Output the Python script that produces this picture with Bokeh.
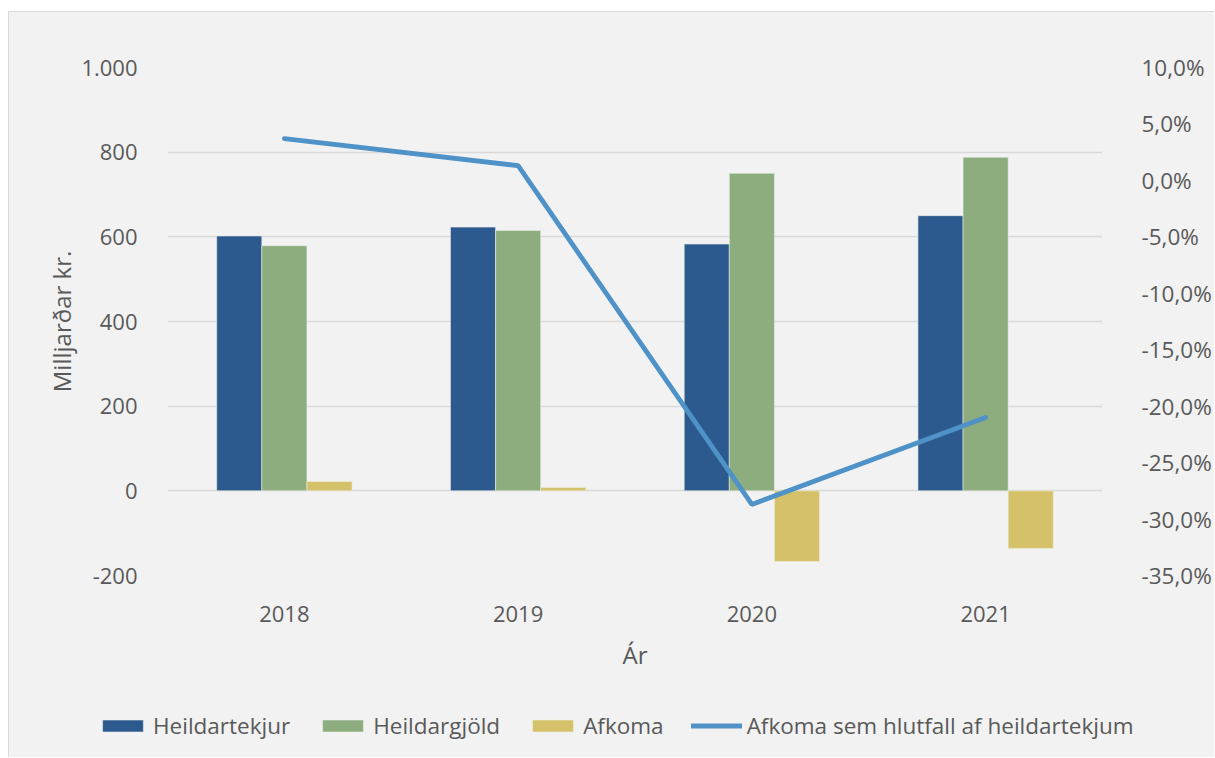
from bokeh.plotting import figure
from bokeh.layouts import column
from bokeh.models import (FactorRange, Range1d, LinearAxis, FixedTicker, Legend, LegendItem)
from bokeh.transform import dodge
from bokeh.embed import file_html
from bokeh.resources import INLINE

years = ["2018", "2019", "2020", "2021"]
heildartekjur = [602, 623, 583, 650]
heildargjold = [579, 615, 750, 788]
afkoma = [22, 8, -167, -136]
hlutfall = [3.7, 1.3, -28.7, -21.0]

series_names = ["Heildartekjur", "Heildargjöld", "Afkoma",
                "Afkoma sem hlutfall af heildartekjum"]

left_ticks = [-200, 0, 200, 400, 600, 800, 1000]
left_labels = ["-200", "0", "200", "400", "600", "800", "1.000"]
right_ticks = [-35, -30, -25, -20, -15, -10, -5, 0, 5, 10]
right_labels = ["-35,0%", "-30,0%", "-25,0%", "-20,0%", "-15,0%", "-10,0%",
                "-5,0%", "0,0%", "5,0%", "10,0%"]

FONT = "Open Sans"
TXT = "#595959"
BG = "#f2f2f2"
C_T, C_G, C_A, C_L = "#2c5a8e", "#8dad7e", "#d4c16a", "#4e92c8"

W = 1205
p = figure(width=W, height=675, output_backend="svg", toolbar_location=None,
           x_range=FactorRange(factors=years, range_padding=0),
           y_range=Range1d(-200, 1000),
           min_border_left=158, min_border_right=111, min_border_top=55,
           min_border_bottom=112)
p.background_fill_color = BG
p.border_fill_color = BG
p.outline_line_color = None
p.frame_align = False

p.extra_y_ranges = {"pct": Range1d(-35, 10)}

bw = 0.193
src = dict(years=years, t=heildartekjur, g=heildargjold, a=afkoma, h=hlutfall)
p.vbar(x=dodge("years", -bw, range=p.x_range), top="t", width=bw, source=src,
       fill_color=C_T, line_color="#e8ece8", line_width=0.6)
p.vbar(x=dodge("years", 0, range=p.x_range), top="g", width=bw, source=src,
       fill_color=C_G, line_color="#e8ece8", line_width=0.6)
p.vbar(x=dodge("years", bw, range=p.x_range), top="a", width=bw, source=src,
       fill_color=C_A, line_color="#eeeedd", line_width=0.6)
p.line(x="years", y="h", source=src, y_range_name="pct",
       line_color=C_L, line_width=4.8, line_cap="round")

ya = p.yaxis[0]
ya.ticker = FixedTicker(ticks=left_ticks)
ya.major_label_overrides = {t: l for t, l in zip(left_ticks, left_labels)}
ya.axis_label = "Milljarðar kr."

ra = LinearAxis(y_range_name="pct", ticker=FixedTicker(ticks=right_ticks))
ra.major_label_overrides = {t: l for t, l in zip(right_ticks, right_labels)}
p.add_layout(ra, "right")

xa = p.xaxis[0]
xa.axis_label = "Ár"

for ax in [ya, ra, xa]:
    ax.axis_line_color = None
    ax.major_tick_line_color = None
    ax.minor_tick_line_color = None
    ax.major_label_text_font = FONT
    ax.major_label_text_font_size = "22px"
    ax.major_label_text_color = TXT
    ax.axis_label_text_font = FONT
    ax.axis_label_text_font_size = "24px"
    ax.axis_label_text_font_style = "normal"
    ax.axis_label_text_color = TXT

ra.major_label_text_font_size = "22.5px"
ya.major_label_standoff = 24
ya.axis_label_standoff = 0
ra.major_label_standoff = 33
xa.major_label_standoff = 24
xa.axis_label_standoff = 13

p.xgrid.grid_line_color = None
p.ygrid.ticker = FixedTicker(ticks=left_ticks)
p.ygrid.grid_line_color = "#d9d9d9"
p.ygrid.grid_line_width = 1.5

# legend strip (separate figure so the wide legend is not clipped)
lg = figure(width=W, height=70, output_backend="svg", toolbar_location=None,
            x_range=Range1d(0, 1), y_range=Range1d(0, 1),
            x_axis_type=None, y_axis_type=None, min_border=0)
lg.background_fill_color = BG
lg.border_fill_color = BG
lg.outline_line_color = None
lg.grid.visible = False
lg.frame_align = False
# off-screen proxies that only carry the legend styles
e1 = lg.vbar(x=[-5], top=[-5], width=0.1, fill_color=C_T, line_color="#e8ece8", line_width=0.6)
e2 = lg.vbar(x=[-5], top=[-5], width=0.1, fill_color=C_G, line_color="#e8ece8", line_width=0.6)
e3 = lg.vbar(x=[-5], top=[-5], width=0.1, fill_color=C_A, line_color="#eeeedd", line_width=0.6)
e4 = lg.line(x=[-5, -4], y=[-5, -5], line_color=C_L, line_width=4.8, line_cap="round")

legend = Legend(items=[LegendItem(label=n, renderers=[r])
                       for n, r in zip(series_names, [e1, e2, e3, e4])],
                orientation="horizontal", location=(88, 16))
legend.background_fill_alpha = 0
legend.border_line_color = None
legend.padding = 0
legend.margin = 0
legend.spacing = 27
legend.glyph_width = 51
legend.glyph_height = 15
legend.label_standoff = 5
legend.label_text_font = FONT
legend.label_text_font_size = "22.5px"
legend.label_text_color = TXT
lg.add_layout(legend, "center")

layout = column(p, lg, spacing=0)
layout.styles = {"margin-left": "8px", "margin-top": "11px",
                 "border-top": "1px solid #d9d9d9",
                 "border-left": "1px solid #d9d9d9",
                 "background-color": BG}

open("out.html", "w").write(file_html(layout, INLINE))
